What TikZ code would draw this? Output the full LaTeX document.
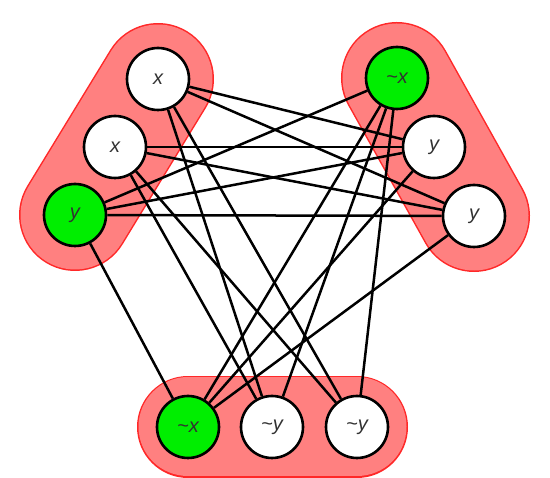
\documentclass[tikz,border=0pt]{standalone}
\usepackage{fontspec}
\setsansfont{Liberation Sans}
\definecolor{pillfill}{RGB}{255,128,128}
\definecolor{pillline}{RGB}{255,40,40}
\definecolor{litgreen}{RGB}{0,238,0}
\definecolor{txt}{RGB}{50,50,50}
\pgfdeclarelayer{pills}
\pgfdeclarelayer{edges}
\pgfsetlayers{pills,edges,main}
\tikzset{
  lit/.style={circle, draw=black, line width=2.6pt, fill=white, minimum size=62pt, inner sep=0pt,
    font=\sffamily\itshape\fontsize{20}{20}\selectfont, text=txt},
  sel/.style={lit, fill=litgreen},
  edge/.style={line width=2.5pt, black},
  pillborder/.style={line width=#1, line cap=round, pillline},
  pillbody/.style={line width=#1, line cap=round, pillfill}
}
\begin{document}
\begin{tikzpicture}[x=1pt,y=-1pt]
\useasboundingbox (0,0) rectangle (550,478);
% left clause
\node[lit] (a1) at (158,79) {x};
\node[lit] (a2) at (115,147) {x};
\node[sel] (a3) at (75,215) {y};
% right clause
\node[sel] (b1) at (397,78) {\textasciitilde x};
\node[lit] (b2) at (434,147) {y};
\node[lit] (b3) at (474,216) {y};
% bottom clause
\node[sel] (c1) at (188,427) {\textasciitilde x};
\node[lit] (c2) at (272,427) {\textasciitilde y};
\node[lit] (c3) at (357,427) {\textasciitilde y};
\begin{pgfonlayer}{pills}
  \draw[pillborder=112pt] (a1.center) -- (a3.center);
  \draw[pillbody=109pt] (a1.center) -- (a3.center);
  \draw[pillborder=112pt] (b1.center) -- (b3.center);
  \draw[pillbody=109pt] (b1.center) -- (b3.center);
  \draw[pillborder=102pt] (c1.center) -- (c3.center);
  \draw[pillbody=99pt] (c1.center) -- (c3.center);
\end{pgfonlayer}
\begin{pgfonlayer}{edges}
  \draw[edge] (a1) -- (b2);
  \draw[edge] (a1) -- (b3);
  \draw[edge] (a2) -- (b2);
  \draw[edge] (a2) -- (b3);
  \draw[edge] (a3) -- (b1);
  \draw[edge] (a3) -- (b2);
  \draw[edge] (a3) -- (b3);
  \draw[edge] (a1) -- (c2);
  \draw[edge] (a1) -- (c3);
  \draw[edge] (a2) -- (c2);
  \draw[edge] (a2) -- (c3);
  \draw[edge] (a3) -- (c1);
  \draw[edge] (b1) -- (c1);
  \draw[edge] (b1) -- (c2);
  \draw[edge] (b1) -- (c3);
  \draw[edge] (b2) -- (c1);
  \draw[edge] (b3) -- (c1);
\end{pgfonlayer}
\end{tikzpicture}
\end{document}
